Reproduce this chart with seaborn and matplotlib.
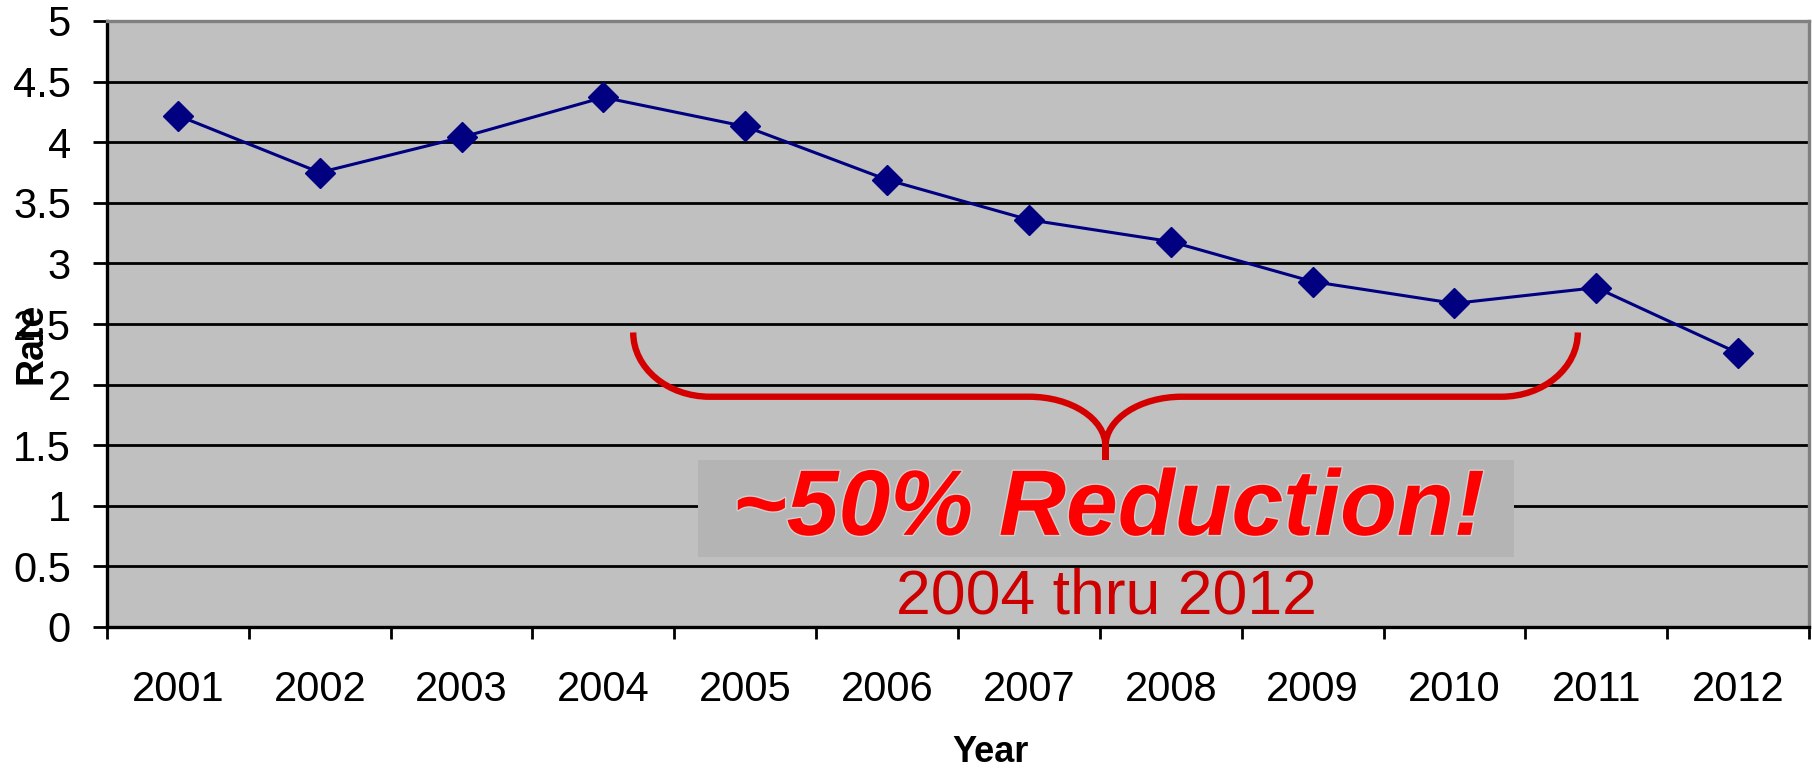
import numpy as np
import pandas as pd
import matplotlib
matplotlib.use("Agg")
import matplotlib.pyplot as plt
import seaborn as sns
from matplotlib.path import Path
from matplotlib.patches import PathPatch, Rectangle
from matplotlib.ticker import FixedLocator
from matplotlib import patheffects as pe

# ---- data ----
years = ["2001", "2002", "2003", "2004", "2005", "2006",
         "2007", "2008", "2009", "2010", "2011", "2012"]
rates = [4.22, 3.75, 4.04, 4.37, 4.13, 3.69, 3.36, 3.18, 2.85, 2.67, 2.80, 2.26]
y_tick_values = [0, 0.5, 1, 1.5, 2, 2.5, 3, 3.5, 4, 4.5, 5]
y_tick_labels = ["0", "0.5", "1", "1.5", "2", "2.5", "3", "3.5", "4", "4.5", "5"]
headline = "~50% Reduction!"
subline = "2004 thru 2012"

sns.set_theme(style="white")
plt.rcParams["font.family"] = ["Liberation Sans", "DejaVu Sans"]

W, H = 1812, 768
fig = plt.figure(figsize=(W / 100, H / 100), dpi=100)
ax = fig.add_axes([107 / W, 1 - 627 / H, 1702 / W, 606 / H])
ax.set_facecolor("#c0c0c0")

df = pd.DataFrame({"Year": years, "Rate": rates})
sns.lineplot(data=df, x="Year", y="Rate", ax=ax, color="#000080", lw=2.2,
             marker="D", markersize=15, markeredgecolor="#000080",
             markeredgewidth=1, zorder=5)

ax.set_xlim(-0.5, len(years) - 0.5)
ax.set_ylim(0, 5)
ax.set_yticks(y_tick_values)
ax.set_yticklabels(y_tick_labels)

# horizontal grid only
ax.set_axisbelow(True)
ax.yaxis.grid(True, color="black", lw=2.0)
ax.xaxis.grid(False)

# ticks: y ticks outward, x ticks on category boundaries
ax.tick_params(axis="y", which="major", direction="out", length=10, width=2,
               color="black", pad=16, labelsize=30, left=True, labelcolor="black")
ax.tick_params(axis="x", which="major", length=0, pad=31, labelsize=30,
               labelcolor="black")
ax.xaxis.set_minor_locator(FixedLocator(np.arange(-0.5, len(years), 1.0)))
ax.tick_params(axis="x", which="minor", direction="out", length=8.6, width=2,
               color="black", bottom=True)

for s in ["left", "bottom"]:
    ax.spines[s].set_color("black")
    ax.spines[s].set_linewidth(2.4)
for s in ["top", "right"]:
    ax.spines[s].set_color("#808080")
    ax.spines[s].set_linewidth(2.4)

ax.set_xlabel("Year", fontsize=26, fontweight="bold", color="black")
ax.xaxis.set_label_coords(0.519, -0.178)
ax.set_ylabel("Rate", fontsize=27, fontweight="bold", color="black")
ax.yaxis.set_label_coords(-0.034, 0.4686)

# curly brace over the 2004-2011 span
k = 0.5523
xl, xm, yt, yb, ytip = 3.21, 6.54, 2.43, 1.90, 1.378
rx1, rx2, ry2 = 0.54, 0.54, 0.41
xr = 2 * xm - xl


def half_brace(x0, sgn):
    verts = [
        (x0, yt),
        (x0, yt - k * (yt - yb)),
        (x0 + sgn * (rx1 - k * rx1), yb),
        (x0 + sgn * rx1, yb),
        (xm - sgn * rx2, yb),
        (xm - sgn * rx2 + sgn * k * rx2, yb),
        (xm, yb - ry2 + k * ry2),
        (xm, yb - ry2),
        (xm, ytip),
    ]
    codes = [Path.MOVETO, Path.CURVE4, Path.CURVE4, Path.CURVE4,
             Path.LINETO, Path.CURVE4, Path.CURVE4, Path.CURVE4, Path.LINETO]
    return verts, codes


v1, c1 = half_brace(xl, 1)
v2, c2 = half_brace(xr, -1)
brace = PathPatch(Path(v1 + v2, c1 + c2), fill=False, ec="#d40000", lw=4.6,
                  capstyle="butt", joinstyle="round", zorder=4)
ax.add_patch(brace)

# shaded box behind the headline
ax.add_patch(Rectangle((3.67, 0.58), 5.75, 0.80, fc="#b4b4b4", ec="none", zorder=3))

ax.text(6.56, 0.76, headline, ha="center", va="baseline", fontsize=67,
        fontweight="bold", fontstyle="italic", color="#ff0000", zorder=6,
        path_effects=[pe.withStroke(linewidth=2, foreground="#cfcfcf")])
ax.text(6.545, 0.115, subline, ha="center", va="baseline", fontsize=45,
        color="#cc0000", zorder=6)

fig.savefig("out.png", dpi=100)
